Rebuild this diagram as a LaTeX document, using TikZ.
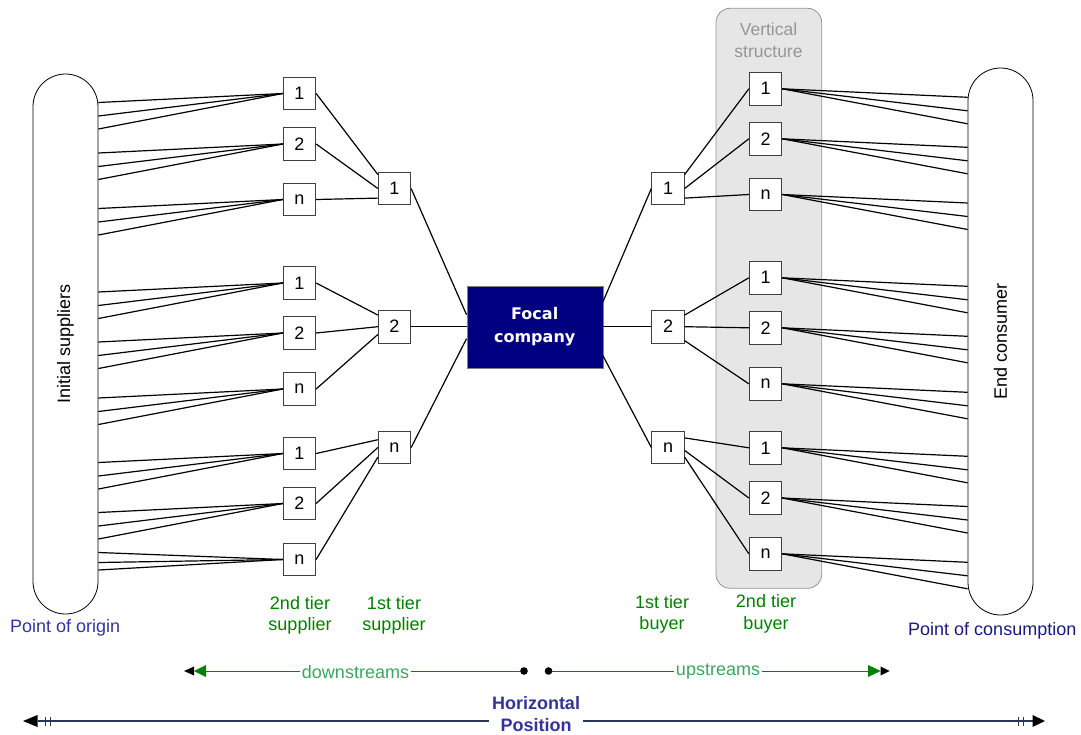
\documentclass[tikz,border=0pt]{standalone}
\usepackage{fontspec}
\setmainfont{Liberation Sans}
\newfontfamily\focalfont{DejaVu Sans}
\usetikzlibrary{calc}
\definecolor{boxline}{RGB}{64,64,64}
\definecolor{tiergreen}{RGB}{0,128,0}
\definecolor{streamgreen}{RGB}{60,165,95}
\definecolor{arrowgreen}{RGB}{0,128,0}
\definecolor{origblue}{RGB}{51,51,160}
\definecolor{consblue}{RGB}{25,25,128}
\definecolor{focalblue}{RGB}{0,0,128}
\definecolor{vsfill}{RGB}{230,230,230}
\definecolor{vsline}{RGB}{150,150,150}
\definecolor{vstext}{RGB}{150,150,150}
\definecolor{hlinecol}{RGB}{40,55,85}
\definecolor{hposcol}{RGB}{51,51,153}
\begin{document}
\begin{tikzpicture}[x=1pt,y=-1pt,
  numbox/.style={draw=boxline, fill=white, line width=0.8pt, minimum size=32.5pt, inner sep=0pt, font=\fontsize{18}{18}\selectfont},
  link/.style={line width=1.2pt, black},
  stadium/.style={draw=black, line width=0.8pt, fill=white, rounded corners=32.5pt, rotate=90, minimum width=#1, minimum height=65pt, inner sep=0pt, font=\fontsize{18}{18}\selectfont},
  tierlabel/.style={text=tiergreen, align=center, inner sep=0pt, font=\fontsize{18}{21.5}\selectfont},
  streamtext/.style={text=streamgreen, inner sep=1.5pt, font=\fontsize{18}{18}\selectfont},
  streamline/.style={arrowgreen, line width=1pt},
  hline/.style={hlinecol, line width=1.5pt}
]
\useasboundingbox (0,0) rectangle (1081,734);

% vertical structure background
\node[draw=vsline, fill=vsfill, rounded corners=14pt, minimum width=105.7pt, minimum height=580pt, inner sep=0pt, line width=0.8pt] (vs) at (768.85,298.3) {};
\node[text=vstext, align=center, inner sep=0pt, font=\fontsize{17.5}{22}\selectfont] (vslabel) at (768.5,40) {Vertical\\structure};

% end shapes
\node[stadium=540pt] (init) at (65.5,344) {Initial suppliers};
\node[stadium=547pt] (endc) at (1000.5,341.5) {End consumer};

% left 2nd tier suppliers
\foreach \nm/\y/\t in {la1/93.5/1, la2/144/2, la3/199.5/n, lb1/283/1, lb2/333/2, lb3/389/n, lc1/453.5/1, lc2/503.5/2, lc3/559.5/n}
  \node[numbox] (\nm) at (299.5,\y) {\t};
% left 1st tier suppliers
\node[numbox] (lt1) at (394.5,188.5) {1};
\node[numbox] (lt2) at (394.5,326.7) {2};
\node[numbox] (lt3) at (394.5,447.5) {n};
% right 1st tier buyers
\node[numbox] (rt1) at (668,188.5) {1};
\node[numbox] (rt2) at (668,326.7) {2};
\node[numbox] (rt3) at (668,447.5) {n};
% right 2nd tier buyers
\foreach \nm/\y/\t in {ra1/88.8/1, ra2/138.8/2, ra3/194.5/n, rb1/277.8/1, rb2/327.8/2, rb3/383.8/n, rc1/447.8/1, rc2/498/2, rc3/553.8/n}
  \node[numbox] (\nm) at (765.5,\y) {\t};

% focal company
\node[draw=gray, fill=focalblue, text=white, minimum width=136pt, minimum height=82pt, inner sep=0pt, align=center, font=\focalfont\bfseries\fontsize{16}{23}\selectfont] (focal) at (534.7,326.7) {Focal\\company};

% initial suppliers to 2nd tier
\foreach \b in {la1,la2,la3,lb1,lb2,lb3,lc1,lc2}
  \foreach \d in {9,22.5,35.5}
    \draw[link] (\b.west) -- ($(init.south |- \b.west)+(0,\d)$);
\foreach \d in {-7,3,10.5}
  \draw[link] (lc3.west) -- ($(init.south |- lc3.west)+(0,\d)$);

% 2nd tier to 1st tier suppliers
\draw[link] (la1.east) -- (lt1.140);
\draw[link] (la2.east) -- (lt1.west);
\draw[link] (la3.east) -- (lt1.210);
\draw[link] (lb1.east) -- (lt2.145);
\draw[link] (lb2.east) -- (lt2.west);
\draw[link] (lb3.east) -- (lt2.205);
\draw[link] (lc1.east) -- (lt3.155);
\draw[link] (lc2.east) -- (lt3.west);
\draw[link] (lc3.east) -- (lt3.210);

% 1st tier suppliers to focal
\draw[link] (lt1.east) -- (focal.170);
\draw[link] (lt2.east) -- (focal.west);
\draw[link] (lt3.east) -- (focal.190);
% focal to 1st tier buyers
\draw[link] (focal.20) -- (rt1.west);
\draw[link] (focal.east) -- (rt2.west);
\draw[link] (focal.-23) -- (rt3.west);

% 1st tier buyers to 2nd tier buyers
\draw[link] (rt1.40) -- (ra1.west);
\draw[link] (rt1.east) -- (ra2.west);
\draw[link] (rt1.-30) -- (ra3.west);
\draw[link] (rt2.35) -- (rb1.west);
\draw[link] (rt2.east) -- (rb2.west);
\draw[link] (rt2.-40) -- (rb3.west);
\draw[link] (rt3.30) -- (rc1.west);
\draw[link] (rt3.-10) -- (rc2.west);
\draw[link] (rt3.-30) -- (rc3.west);

% 2nd tier buyers to end consumer
\foreach \b in {ra1,ra2,ra3,rb1,rb2,rb3,rc1,rc2,rc3}
  \foreach \d in {8.5,22,35}
    \draw[link] (\b.east) -- ($(endc.north |- \b.east)+(0,\d)$);

% tier labels
\node[tierlabel] (l2s) at (300,615.5) {2nd tier\\supplier};
\node[tierlabel] (l1s) at (394,615.5) {1st tier\\supplier};
\node[tierlabel] (l1b) at (662,614.5) {1st tier\\buyer};
\node[tierlabel] (l2b) at (766,614) {2nd tier\\buyer};

\node[anchor=west, text=origblue, inner sep=0pt, font=\fontsize{18}{18}\selectfont] (poo) at (10,628) {Point of origin};
\node[anchor=west, text=consblue, inner sep=0pt, font=\fontsize{18}{18}\selectfont] (poc) at (908,631) {Point of consumption};

% downstream / upstream
\coordinate (dsend) at (206,671);
\coordinate (dot1) at (524,671);
\coordinate (dot2) at (548.5,671);
\coordinate (usend) at (868,671);
\node[streamtext] (dstext) at (355.5,672) {downstreams};
\node[streamtext] (ustext) at (718,672) {upstreams};
\draw[streamline] (dsend) -- (dsend -| dstext.west);
\draw[streamline] (dstext.east |- dot1) -- (dot1);
\draw[streamline] (dot2) -- (dot2 -| ustext.west);
\draw[streamline] (ustext.east |- usend) -- (usend);
\fill[black] (dot1) circle (3.8);
\fill[black] (dot2) circle (3.8);
\fill[arrowgreen] (194,671) -- (206,665) -- (206,677) -- cycle;
\fill[black] (184,671) -- (194,666.5) -- (194,675.5) -- cycle;
\fill[arrowgreen] (880.7,671) -- (868,665) -- (868,677) -- cycle;
\fill[black] (889.6,671) -- (880.7,666.5) -- (880.7,675.5) -- cycle;

% horizontal position
\node[text=hposcol, align=center, inner sep=3pt, font=\bfseries\fontsize{18}{22}\selectfont] (hpos) at (536,714) {Horizontal\\Position};
\coordinate (hl) at (37.5,721);
\coordinate (hr) at (1032.5,721);
\draw[hline] (hl) -- (hl -| hpos.west);
\draw[hline] (hr) -- (hr -| hpos.east);
\fill[black] (23,721) -- (37.5,715) -- (37.5,727) -- cycle;
\fill[black] (1045,721) -- (1032.5,715) -- (1032.5,727) -- cycle;
\foreach \tx in {45.7,50.7,1018,1023.6}
  \draw[hlinecol, line width=0.8pt] (\tx,716.5) -- (\tx,725.5);
\end{tikzpicture}
\end{document}
